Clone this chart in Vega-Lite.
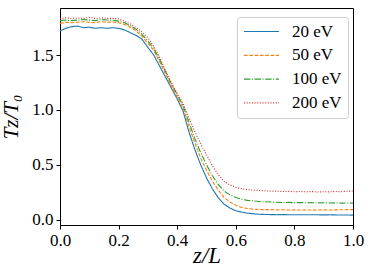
{
 "$schema": "https://vega.github.io/schema/vega-lite/v6.json",
 "width": 293,
 "height": 217,
 "autosize": "none",
 "padding": {"left": 60, "top": 8, "right": 21, "bottom": 55},
 "background": "white",
 "config": {"view": {"stroke": "black", "strokeWidth": 1}, "font": "Liberation Serif"},
 "data": {"values": [
  {"x":0.00,"20 eV":1.72,"50 eV":1.79,"100 eV":1.815,"200 eV":1.83},
  {"x":0.02,"20 eV":1.745,"50 eV":1.80,"100 eV":1.82,"200 eV":1.84},
  {"x":0.04,"20 eV":1.76,"50 eV":1.795,"100 eV":1.815,"200 eV":1.835},
  {"x":0.06,"20 eV":1.765,"50 eV":1.80,"100 eV":1.82,"200 eV":1.84},
  {"x":0.08,"20 eV":1.75,"50 eV":1.805,"100 eV":1.825,"200 eV":1.835},
  {"x":0.10,"20 eV":1.755,"50 eV":1.80,"100 eV":1.82,"200 eV":1.845},
  {"x":0.12,"20 eV":1.745,"50 eV":1.795,"100 eV":1.815,"200 eV":1.835},
  {"x":0.14,"20 eV":1.75,"50 eV":1.805,"100 eV":1.825,"200 eV":1.84},
  {"x":0.16,"20 eV":1.745,"50 eV":1.80,"100 eV":1.82,"200 eV":1.835},
  {"x":0.18,"20 eV":1.75,"50 eV":1.805,"100 eV":1.82,"200 eV":1.835},
  {"x":0.20,"20 eV":1.745,"50 eV":1.795,"100 eV":1.81,"200 eV":1.83},
  {"x":0.22,"20 eV":1.73,"50 eV":1.78,"100 eV":1.795,"200 eV":1.81},
  {"x":0.24,"20 eV":1.705,"50 eV":1.755,"100 eV":1.77,"200 eV":1.785},
  {"x":0.26,"20 eV":1.68,"50 eV":1.72,"100 eV":1.735,"200 eV":1.75},
  {"x":0.28,"20 eV":1.645,"50 eV":1.67,"100 eV":1.69,"200 eV":1.71},
  {"x":0.30,"20 eV":1.57,"50 eV":1.61,"100 eV":1.63,"200 eV":1.66},
  {"x":0.32,"20 eV":1.50,"50 eV":1.54,"100 eV":1.56,"200 eV":1.58},
  {"x":0.34,"20 eV":1.40,"50 eV":1.44,"100 eV":1.46,"200 eV":1.48},
  {"x":0.36,"20 eV":1.30,"50 eV":1.33,"100 eV":1.35,"200 eV":1.36},
  {"x":0.38,"20 eV":1.20,"50 eV":1.22,"100 eV":1.24,"200 eV":1.25},
  {"x":0.40,"20 eV":1.10,"50 eV":1.12,"100 eV":1.14,"200 eV":1.15},
  {"x":0.42,"20 eV":0.99,"50 eV":1.02,"100 eV":1.04,"200 eV":1.06},
  {"x":0.44,"20 eV":0.80,"50 eV":0.85,"100 eV":0.89,"200 eV":0.93},
  {"x":0.46,"20 eV":0.64,"50 eV":0.70,"100 eV":0.74,"200 eV":0.80},
  {"x":0.48,"20 eV":0.50,"50 eV":0.56,"100 eV":0.61,"200 eV":0.69},
  {"x":0.50,"20 eV":0.38,"50 eV":0.45,"100 eV":0.50,"200 eV":0.59},
  {"x":0.52,"20 eV":0.28,"50 eV":0.35,"100 eV":0.40,"200 eV":0.49},
  {"x":0.54,"20 eV":0.20,"50 eV":0.27,"100 eV":0.32,"200 eV":0.41},
  {"x":0.56,"20 eV":0.14,"50 eV":0.20,"100 eV":0.26,"200 eV":0.35},
  {"x":0.58,"20 eV":0.105,"50 eV":0.16,"100 eV":0.225,"200 eV":0.315},
  {"x":0.60,"20 eV":0.08,"50 eV":0.13,"100 eV":0.20,"200 eV":0.295},
  {"x":0.62,"20 eV":0.068,"50 eV":0.11,"100 eV":0.185,"200 eV":0.28},
  {"x":0.64,"20 eV":0.058,"50 eV":0.10,"100 eV":0.175,"200 eV":0.272},
  {"x":0.66,"20 eV":0.052,"50 eV":0.095,"100 eV":0.17,"200 eV":0.268},
  {"x":0.68,"20 eV":0.048,"50 eV":0.092,"100 eV":0.165,"200 eV":0.265},
  {"x":0.70,"20 eV":0.046,"50 eV":0.09,"100 eV":0.162,"200 eV":0.262},
  {"x":0.72,"20 eV":0.045,"50 eV":0.09,"100 eV":0.16,"200 eV":0.258},
  {"x":0.74,"20 eV":0.044,"50 eV":0.088,"100 eV":0.157,"200 eV":0.26},
  {"x":0.76,"20 eV":0.045,"50 eV":0.089,"100 eV":0.155,"200 eV":0.255},
  {"x":0.78,"20 eV":0.044,"50 eV":0.087,"100 eV":0.156,"200 eV":0.257},
  {"x":0.80,"20 eV":0.043,"50 eV":0.088,"100 eV":0.154,"200 eV":0.253},
  {"x":0.82,"20 eV":0.044,"50 eV":0.087,"100 eV":0.155,"200 eV":0.256},
  {"x":0.84,"20 eV":0.043,"50 eV":0.088,"100 eV":0.153,"200 eV":0.252},
  {"x":0.86,"20 eV":0.044,"50 eV":0.086,"100 eV":0.154,"200 eV":0.255},
  {"x":0.88,"20 eV":0.043,"50 eV":0.087,"100 eV":0.152,"200 eV":0.251},
  {"x":0.90,"20 eV":0.042,"50 eV":0.088,"100 eV":0.153,"200 eV":0.254},
  {"x":0.92,"20 eV":0.043,"50 eV":0.087,"100 eV":0.151,"200 eV":0.252},
  {"x":0.94,"20 eV":0.042,"50 eV":0.088,"100 eV":0.152,"200 eV":0.256},
  {"x":0.96,"20 eV":0.041,"50 eV":0.089,"100 eV":0.15,"200 eV":0.254},
  {"x":0.98,"20 eV":0.041,"50 eV":0.09,"100 eV":0.151,"200 eV":0.258},
  {"x":1.00,"20 eV":0.04,"50 eV":0.09,"100 eV":0.15,"200 eV":0.26}
 ]},
 "transform": [{"fold": ["20 eV", "50 eV", "100 eV", "200 eV"], "as": ["series", "value"]}],
 "mark": {"type": "line", "strokeWidth": 1.1},
 "encoding": {
  "x": {"field": "x", "type": "quantitative",
   "scale": {"domain": [0, 1], "nice": false, "zero": false},
   "axis": {"values": [0, 0.2, 0.4, 0.6, 0.8, 1], "format": ".1f", "title": "z/L",
    "titleFont": "Liberation Serif", "titleFontStyle": "italic", "titleFontWeight": "normal", "titleFontSize": 23, "titleColor": "black", "titlePadding": -4,
    "labelFont": "Liberation Serif", "labelFontSize": 17, "labelColor": "black", "labelPadding": 3, "labelFlush": false,
    "tickColor": "black", "tickSize": 4, "domainColor": "black", "grid": false}},
  "y": {"field": "value", "type": "quantitative",
   "scale": {"domain": [-0.05, 1.93], "nice": false, "zero": false},
   "axis": {"values": [0, 0.5, 1, 1.5], "format": ".1f", "title": "Tz/T₀",
    "titleFont": "Liberation Serif", "titleFontStyle": "italic", "titleFontWeight": "normal", "titleFontSize": 21, "titleColor": "black", "titlePadding": 10,
    "labelFont": "Liberation Serif", "labelFontSize": 17, "labelColor": "black", "labelPadding": 3, "labelFlush": false,
    "tickColor": "black", "tickSize": 4, "domainColor": "black", "grid": false}},
  "color": {"field": "series", "type": "nominal",
   "scale": {"domain": ["20 eV", "50 eV", "100 eV", "200 eV"], "range": ["#1f77b4", "#ff7f0e", "#2ca02c", "#d62728"]},
   "legend": {"title": null, "orient": "none", "legendX": 177, "legendY": 9, "symbolType": "stroke", "symbolSize": 1225, "symbolStrokeWidth": 1.2,
    "clipHeight": 17,
    "labelFont": "Liberation Serif", "labelFontSize": 17, "labelColor": "black", "labelOffset": 12, "rowPadding": 5.8,
    "padding": 6, "fillColor": "white", "strokeColor": "#cccccc", "cornerRadius": 3}},
  "strokeDash": {"field": "series", "type": "nominal",
   "scale": {"domain": ["20 eV", "50 eV", "100 eV", "200 eV"], "range": [[1, 0], [3.7, 1.6], [6.4, 1.6, 1, 1.6], [1, 1.65]]},
   "legend": {"title": null, "orient": "none", "legendX": 177, "legendY": 9, "symbolType": "stroke", "symbolSize": 1225, "symbolStrokeWidth": 1.2,
    "clipHeight": 17,
    "labelFont": "Liberation Serif", "labelFontSize": 17, "labelColor": "black", "labelOffset": 12, "rowPadding": 5.8,
    "padding": 6, "fillColor": "white", "strokeColor": "#cccccc", "cornerRadius": 3}}
 }
}
